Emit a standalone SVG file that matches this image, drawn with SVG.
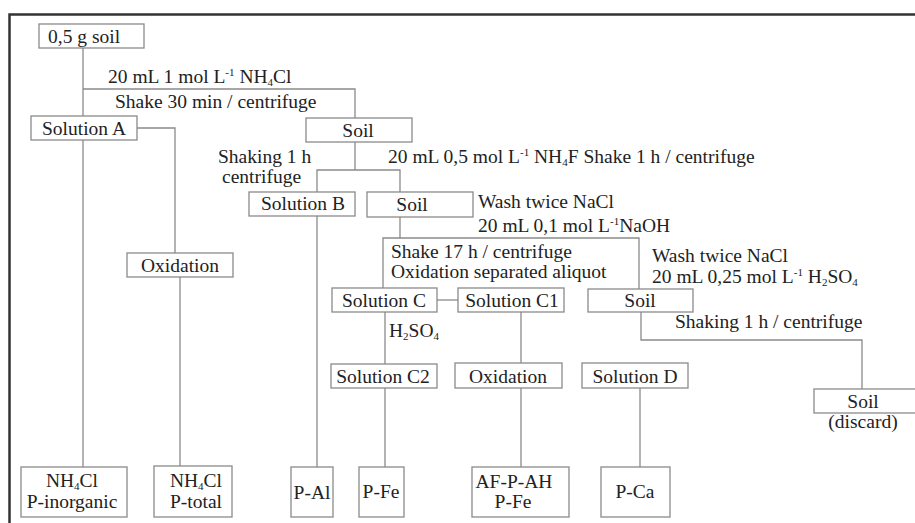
<svg xmlns="http://www.w3.org/2000/svg" width="915" height="523" viewBox="0 0 915 523">
<style>
text{font-family:"Liberation Serif","Times New Roman",serif;font-size:19.5px;fill:#222}
.c{text-anchor:middle}
.box{fill:#fff;stroke:#8a8a8a;stroke-width:1.3}
.ln{fill:none;stroke:#8a8a8a;stroke-width:1.3}
.s{font-size:11px}
</style>
<rect width="915" height="523" fill="#fff"/>
<path d="M9.5 523 V14.5 H915" fill="none" stroke="#333" stroke-width="2.5"/>
<g id="connectors">
<path class="ln" d="M83 48 V467"/>
<path class="ln" d="M83 89 H355 V118"/>
<path class="ln" d="M137 128 H175 V253"/>
<path class="ln" d="M180 277 V466"/>
<path class="ln" d="M355 142 V170 M317 192 V170 H400 V192"/>
<path class="ln" d="M317 216 V467"/>
<path class="ln" d="M400 217 V238 M383 288 V238 H639 V289"/>
<path class="ln" d="M437 300 H458"/>
<path class="ln" d="M385 312 V467"/>
<path class="ln" d="M521 312 V467"/>
<path class="ln" d="M641 312 V340 H862 V389"/>
<path class="ln" d="M640 388 V467"/>
</g>
<g id="soil0"><rect class="box" x="39" y="24" width="105" height="24"/><text x="48" y="43">0,5 g soil</text></g>
<g id="solA"><rect class="box" x="31" y="116" width="106" height="24"/><text x="84" y="135" class="c">Solution A</text></g>
<g id="soil1"><rect class="box" x="306" y="118" width="106" height="24"/><text x="358" y="137" class="c">Soil</text></g>
<g id="solB"><rect class="box" x="249" y="192" width="106" height="24"/><text x="303" y="210" class="c">Solution B</text></g>
<g id="soil2"><rect class="box" x="367" y="192" width="106" height="25"/><text x="412" y="211" class="c">Soil</text></g>
<g id="oxA"><rect class="box" x="127" y="253" width="106" height="24"/><text x="180" y="272" class="c">Oxidation</text></g>
<g id="solC"><rect class="box" x="332" y="288" width="105" height="24"/><text x="384" y="307" class="c">Solution C</text></g>
<g id="solC1"><rect class="box" x="458" y="288" width="106" height="24"/><text x="512" y="307" class="c">Solution C1</text></g>
<g id="soil3"><rect class="box" x="588" y="289" width="105" height="23"/><text x="640" y="307" class="c">Soil</text></g>
<g id="solC2"><rect class="box" x="331" y="364" width="106" height="24"/><text x="383" y="383" class="c">Solution C2</text></g>
<g id="oxB"><rect class="box" x="455" y="363" width="107" height="25"/><text x="508" y="383" class="c">Oxidation</text></g>
<g id="solD"><rect class="box" x="582" y="363" width="106" height="25"/><text x="635" y="383" class="c">Solution D</text></g>
<g id="discard"><rect class="box" x="814" y="389" width="120" height="24"/><text x="863" y="408" class="c">Soil</text><text x="863" y="428" class="c">(discard)</text></g>
<g id="pInorg"><rect class="box" x="21" y="467" width="106" height="50"/><text x="72" y="487" class="c">NH<tspan class="s" dy="3">4</tspan><tspan dy="-3">Cl</tspan></text><text x="72" y="508" class="c">P-inorganic</text></g>
<g id="pTotal"><rect class="box" x="154" y="466" width="78" height="51"/><text x="196" y="487" class="c">NH<tspan class="s" dy="3">4</tspan><tspan dy="-3">Cl</tspan></text><text x="196" y="508" class="c">P-total</text></g>
<g id="pAl"><rect class="box" x="291" y="467" width="42" height="50"/><text x="312" y="499" class="c">P-Al</text></g>
<g id="pFe"><rect class="box" x="359" y="467" width="45" height="50"/><text x="381" y="498" class="c">P-Fe</text></g>
<g id="pAF"><rect class="box" x="472" y="467" width="97" height="50"/><text x="514" y="488" class="c">AF-P-AH</text><text x="513" y="508" class="c">P-Fe</text></g>
<g id="pCa"><rect class="box" x="601" y="467" width="69" height="50"/><text x="635" y="498" class="c">P-Ca</text></g>
<g id="labels">
<text x="108" y="83">20 mL 1 mol L<tspan class="s" dy="-7">-1</tspan><tspan dy="7"> NH</tspan><tspan class="s" dy="3">4</tspan><tspan dy="-3">Cl</tspan></text>
<text x="115" y="108">Shake 30 min / centrifuge</text>
<text x="218" y="163">Shaking 1 h</text>
<text x="222" y="183">centrifuge</text>
<text x="388" y="163">20 mL 0,5 mol L<tspan class="s" dy="-7">-1</tspan><tspan dy="7"> NH</tspan><tspan class="s" dy="3">4</tspan><tspan dy="-3">F Shake 1 h / centrifuge</tspan></text>
<text x="478" y="208">Wash twice NaCl</text>
<text x="478" y="232">20 mL 0,1 mol L<tspan class="s" dy="-7">-1</tspan><tspan dy="7">NaOH</tspan></text>
<text x="391" y="258">Shake 17 h / centrifuge</text>
<text x="391" y="278">Oxidation separated aliquot</text>
<text x="652" y="262">Wash twice NaCl</text>
<text x="652" y="283">20 mL 0,25 mol L<tspan class="s" dy="-7">-1</tspan><tspan dy="7"> H</tspan><tspan class="s" dy="3">2</tspan><tspan dy="-3">SO</tspan><tspan class="s" dy="3">4</tspan></text>
<text x="389" y="337">H<tspan class="s" dy="3">2</tspan><tspan dy="-3">SO</tspan><tspan class="s" dy="3">4</tspan></text>
<text x="675" y="328">Shaking 1 h / centrifuge</text>
</g>
</svg>
